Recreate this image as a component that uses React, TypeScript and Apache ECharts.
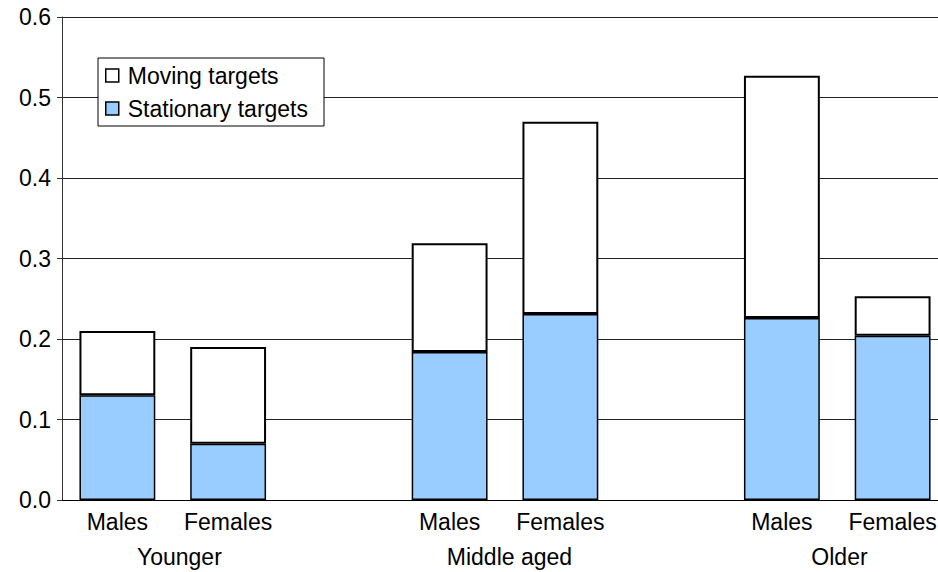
import React, { useEffect, useRef } from "react";
import * as echarts from "echarts";

const categories = ["Males", "Females", "", "Males", "Females", "", "Males", "Females"];
const groups = ["Younger", "Middle aged", "Older"];
const stationary = [0.13, 0.07, null, 0.184, 0.231, null, 0.226, 0.204];
const moving = [0.08, 0.12, null, 0.135, 0.239, null, 0.301, 0.049];
const yTicks = [0, 0.1, 0.2, 0.3, 0.4, 0.5, 0.6];

// layout: where each group label sits, in category-slot units
const GROUP_LABEL_AT = [1.06, 4.04, 7.02];

const FONT = 'Arial, "Liberation Sans", sans-serif';
const FS = 23;

export default function App() {
  const ref = useRef<HTMLDivElement>(null);
  useEffect(() => {
    if (!ref.current) return;
    const chart = echarts.init(ref.current, undefined, { renderer: "svg" });
    chart.setOption({
      animation: false,
      backgroundColor: "#ffffff",
      textStyle: { fontFamily: FONT },
      grid: { left: 62, width: 886, top: 17, height: 483, containLabel: false, outerBoundsMode: "none" },
      legend: {
        orient: "vertical",
        left: 98,
        top: 58,
        data: [
          { name: "Moving targets", itemStyle: { color: "#ffffff", borderColor: "#000", borderWidth: 1.5 } },
          { name: "Stationary targets", itemStyle: { color: "#99ccff", borderColor: "#000", borderWidth: 1.5 } },
        ],
        icon: "rect",
        itemWidth: 13,
        itemHeight: 13,
        itemGap: 8,
        padding: [5, 16, 5, 7],
        backgroundColor: "#ffffff",
        borderColor: "#000",
        borderWidth: 1,
        borderRadius: 0,
        textStyle: { fontSize: FS, color: "#000", fontFamily: FONT, lineHeight: 25, padding: [0, 0, 0, 4] },
      },
      xAxis: [
        {
          type: "category",
          data: categories,
          position: "bottom",
          axisLine: { show: true, lineStyle: { color: "#000", width: 1 } },
          axisTick: { show: false },
          axisLabel: { fontSize: FS, color: "#000", fontFamily: FONT, margin: 10, interval: 0 },
          splitLine: { show: false },
        },
        {
          type: "value",
          min: 0,
          max: categories.length,
          interval: 0.02,
          position: "bottom",
          offset: 35,
          axisLine: { show: false },
          axisTick: { show: false },
          splitLine: { show: false },
          axisLabel: {
            fontSize: FS,
            color: "#000",
            fontFamily: FONT,
            margin: 10,
            hideOverlap: false,
            formatter: (v: number) => {
              const i = GROUP_LABEL_AT.findIndex((p) => Math.abs(p - v) < 0.005);
              return i >= 0 ? groups[i] : "";
            },
          },
        },
      ],
      yAxis: {
        type: "value",
        min: yTicks[0],
        max: yTicks[yTicks.length - 1],
        interval: 0.1,
        axisLine: { show: true, lineStyle: { color: "#333", width: 1 } },
        axisTick: { show: true, length: 5, lineStyle: { color: "#333" } },
        axisLabel: {
          fontSize: FS,
          color: "#000",
          fontFamily: FONT,
          margin: 11,
          formatter: (v: number) => v.toFixed(1),
        },
        splitLine: { show: true, lineStyle: { color: "#222", width: 1 } },
      },
      series: [
        {
          name: "Stationary targets",
          type: "bar",
          stack: "total",
          xAxisIndex: 0,
          barWidth: "68.5%",
          data: stationary,
          itemStyle: { color: "#99ccff", borderColor: "#000", borderWidth: 1.5 },
        },
        {
          name: "Moving targets",
          type: "bar",
          stack: "total",
          xAxisIndex: 0,
          barWidth: "68.5%",
          data: moving,
          itemStyle: { color: "#ffffff", borderColor: "#000", borderWidth: 2 },
        },
      ],
    });
    return () => chart.dispose();
  }, []);
  return (
    <div
      ref={ref}
      style={{ position: "fixed", left: 0, top: 0, width: 938, height: 572, background: "#fff" }}
    />
  );
}
